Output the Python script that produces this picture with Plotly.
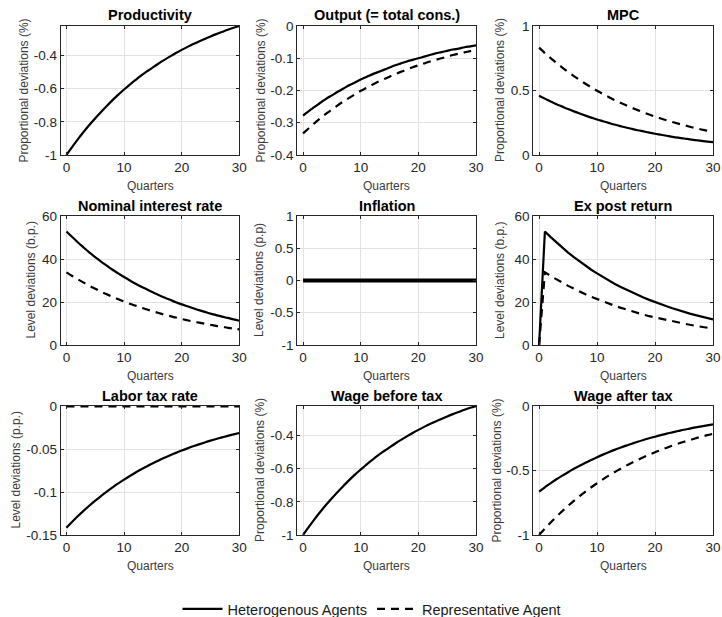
import plotly.graph_objects as go

# ---------------- data ----------------
quarters = list(range(31))

productivity_ha = [-1.000, -0.951, -0.904, -0.860, -0.818, -0.778, -0.740, -0.704, -0.669, -0.636,
                   -0.605, -0.575, -0.547, -0.520, -0.495, -0.471, -0.448, -0.426, -0.405, -0.385,
                   -0.366, -0.348, -0.331, -0.315, -0.300, -0.285, -0.271, -0.258, -0.245, -0.233, -0.222]

output_ha = [-0.278, -0.264, -0.251, -0.238, -0.226, -0.215, -0.204, -0.194, -0.184, -0.175,
             -0.166, -0.158, -0.150, -0.143, -0.136, -0.129, -0.122, -0.116, -0.110, -0.105,
             -0.100, -0.095, -0.090, -0.085, -0.081, -0.077, -0.073, -0.070, -0.066, -0.063, -0.060]
output_ra = [-0.333, -0.317, -0.301, -0.286, -0.272, -0.259, -0.246, -0.234, -0.223, -0.212,
             -0.201, -0.192, -0.182, -0.173, -0.165, -0.157, -0.149, -0.142, -0.135, -0.128,
             -0.122, -0.116, -0.110, -0.105, -0.100, -0.095, -0.090, -0.086, -0.082, -0.078, -0.074]

mpc_ha = [0.460, 0.437, 0.415, 0.394, 0.375, 0.356, 0.338, 0.321, 0.305, 0.290,
          0.275, 0.262, 0.249, 0.236, 0.224, 0.213, 0.202, 0.192, 0.183, 0.174,
          0.165, 0.157, 0.149, 0.141, 0.134, 0.128, 0.121, 0.115, 0.109, 0.104, 0.099]
mpc_ra = [0.832, 0.790, 0.751, 0.713, 0.678, 0.644, 0.612, 0.581, 0.552, 0.524,
          0.498, 0.473, 0.450, 0.427, 0.406, 0.385, 0.366, 0.348, 0.330, 0.314,
          0.298, 0.283, 0.269, 0.256, 0.243, 0.231, 0.219, 0.208, 0.198, 0.188, 0.179]

nominal_ha = [52.8, 50.2, 47.7, 45.3, 43.0, 40.9, 38.8, 36.9, 35.0, 33.3,
              31.6, 30.0, 28.5, 27.1, 25.8, 24.5, 23.2, 22.1, 21.0, 19.9,
              18.9, 18.0, 17.1, 16.2, 15.4, 14.6, 13.9, 13.2, 12.6, 11.9, 11.3]
nominal_ra = [33.8, 32.1, 30.5, 29.0, 27.5, 26.2, 24.8, 23.6, 22.4, 21.3,
              20.2, 19.2, 18.3, 17.4, 16.5, 15.7, 14.9, 14.1, 13.4, 12.8,
              12.1, 11.5, 10.9, 10.4, 9.9, 9.4, 8.9, 8.5, 8.0, 7.6, 7.3]

inflation_ha = [0.0] * 31
inflation_ra = [0.0] * 31

expost_ha = [0.0, 52.8, 50.2, 47.7, 45.3, 43.0, 40.9, 38.8, 36.9, 35.0,
             33.3, 31.6, 30.0, 28.5, 27.1, 25.8, 24.5, 23.2, 22.1, 21.0,
             19.9, 18.9, 18.0, 17.1, 16.2, 15.4, 14.6, 13.9, 13.2, 12.6, 11.9]
expost_ra = [0.0, 33.8, 32.1, 30.5, 29.0, 27.5, 26.2, 24.8, 23.6, 22.4,
             21.3, 20.2, 19.2, 18.3, 17.4, 16.5, 15.7, 14.9, 14.1, 13.4,
             12.8, 12.1, 11.5, 10.9, 10.4, 9.9, 9.4, 8.9, 8.5, 8.0, 7.6]

labortax_ha = [-0.1415, -0.1346, -0.1280, -0.1217, -0.1157, -0.1101, -0.1047, -0.0995, -0.0947, -0.0900,
               -0.0856, -0.0814, -0.0774, -0.0736, -0.0700, -0.0666, -0.0633, -0.0602, -0.0573, -0.0545,
               -0.0518, -0.0493, -0.0469, -0.0446, -0.0424, -0.0403, -0.0383, -0.0365, -0.0347, -0.0330, -0.0314]
labortax_ra = [0.0] * 31

wage_before_ha = [-1.000, -0.951, -0.904, -0.860, -0.818, -0.778, -0.740, -0.704, -0.669, -0.636,
                  -0.605, -0.575, -0.547, -0.520, -0.495, -0.471, -0.448, -0.426, -0.405, -0.385,
                  -0.366, -0.348, -0.331, -0.315, -0.300, -0.285, -0.271, -0.258, -0.245, -0.233, -0.222]

wage_after_ha = [-0.663, -0.630, -0.598, -0.568, -0.540, -0.513, -0.487, -0.463, -0.440, -0.418,
                 -0.397, -0.377, -0.358, -0.340, -0.323, -0.307, -0.292, -0.277, -0.263, -0.250,
                 -0.238, -0.226, -0.214, -0.204, -0.194, -0.184, -0.175, -0.166, -0.158, -0.150, -0.142]
wage_after_ra = [-1.000, -0.950, -0.903, -0.857, -0.815, -0.774, -0.735, -0.698, -0.663, -0.630,
                 -0.599, -0.569, -0.540, -0.513, -0.488, -0.463, -0.440, -0.418, -0.397, -0.377,
                 -0.358, -0.341, -0.324, -0.307, -0.292, -0.277, -0.264, -0.250, -0.238, -0.226, -0.215]

titles = ["Productivity", "Output (= total cons.)", "MPC",
          "Nominal interest rate", "Inflation", "Ex post return",
          "Labor tax rate", "Wage before tax", "Wage after tax"]
ylabels = ["Proportional deviations (%)", "Proportional deviations (%)", "Proportional deviations (%)",
           "Level deviations (b.p.)", "Level deviations (p.p)", "Level deviations (b.p.)",
           "Level deviations (p.p.)", "Proportional deviations (%)", "Proportional deviations (%)"]
ha_series = [productivity_ha, output_ha, mpc_ha, nominal_ha, inflation_ha, expost_ha,
             labortax_ha, wage_before_ha, wage_after_ha]
ra_series = [None, output_ra, mpc_ra, nominal_ra, inflation_ra, expost_ra,
             labortax_ra, None, wage_after_ra]
y_ranges = [[-1, -0.222], [-0.4, 0], [0, 1], [0, 60], [-1, 1], [0, 60],
            [-0.15, 0], [-1, -0.222], [-1, 0]]
y_tickvals = [[-1, -0.8, -0.6, -0.4], [-0.4, -0.3, -0.2, -0.1, 0], [0, 0.5, 1],
              [0, 20, 40, 60], [-1, -0.5, 0, 0.5, 1], [0, 20, 40, 60],
              [-0.15, -0.1, -0.05, 0], [-1, -0.8, -0.6, -0.4], [-1, -0.5, 0]]
y_ticktext = [["-1", "-0.8", "-0.6", "-0.4"], ["-0.4", "-0.3", "-0.2", "-0.1", "0"], ["0", "0.5", "1"],
              ["0", "20", "40", "60"], ["-1", "-0.5", "0", "0.5", "1"], ["0", "20", "40", "60"],
              ["-0.15", "-0.1", "-0.05", "0"], ["-1", "-0.8", "-0.6", "-0.4"], ["-1", "-0.5", "0"]]
x_tickvals = [0, 10, 20, 30]
x_ticktext = ["0", "10", "20", "30"]
x_label = "Quarters"
legend_names = ["Heterogenous Agents", "Representative Agent"]

# ---------------- layout geometry (pixels) ----------------
W, H = 722, 617
col_px = [(60.7, 239.3), (297.3, 476.0), (533.3, 713.0)]
row_px = [(26, 155), (216, 345), (406, 535)]
ylab_px = [23, 260, 499.5, 31, 259.5, 500.5, 15, 259.5, 496]

FONT = "Liberation Sans, Arial, sans-serif"
AXC = "#262626"
GRID = "#e2e2e2"

fig = go.Figure()
annotations = []
legend_shown = {"ha": False, "ra": False}

for i in range(9):
    r, c = divmod(i, 3)
    n = i + 1
    xa = "x" if n == 1 else f"x{n}"
    ya = "y" if n == 1 else f"y{n}"
    x0, x1 = col_px[c]
    top, bot = row_px[r]
    xdom = [x0 / W, x1 / W]
    ydom = [1 - bot / H, 1 - top / H]
    shape = "linear" if i == 5 else "spline"

    ha_w = 4 if i == 4 else 2.2
    fig.add_trace(go.Scatter(
        x=quarters, y=ha_series[i], mode="lines",
        line=dict(color="black", width=ha_w, shape=shape),
        name=legend_names[0], legendgroup="ha",
        showlegend=not legend_shown["ha"],
        xaxis=xa, yaxis=ya, hoverinfo="skip"))
    legend_shown["ha"] = True
    if ra_series[i] is not None:
        ra_w = 3 if i == 6 else 2.2
        fig.add_trace(go.Scatter(
            x=quarters, y=ra_series[i], mode="lines",
            line=dict(color="black", width=ra_w, dash="8px,6px", shape=shape),
            name=legend_names[1], legendgroup="ra",
            showlegend=not legend_shown["ra"],
            xaxis=xa, yaxis=ya, hoverinfo="skip"))
        legend_shown["ra"] = True

    common = dict(showgrid=True, gridcolor=GRID, gridwidth=1, zeroline=False,
                  showline=True, linecolor=AXC, linewidth=1, mirror="ticks",
                  ticks="inside", ticklen=3, tickcolor=AXC, tickwidth=1,
                  tickfont=dict(family=FONT, size=13.5, color=AXC), tickmode="array",
                  automargin=False)
    fig.update_layout(**{
        ("xaxis" if n == 1 else f"xaxis{n}"): dict(
            domain=xdom, anchor=ya, range=[-1, 30],
            tickvals=x_tickvals, ticktext=x_ticktext, **common),
        ("yaxis" if n == 1 else f"yaxis{n}"): dict(
            domain=ydom, anchor=xa, range=y_ranges[i],
            tickvals=y_tickvals[i], ticktext=y_ticktext[i], **common),
    })

    cx = (x0 + x1) / 2 / W
    annotations.append(dict(text=f"<b>{titles[i]}</b>", x=cx, y=1 - (top - 10.5) / H,
                            xref="paper", yref="paper", xanchor="center", yanchor="middle",
                            showarrow=False, font=dict(family=FONT, size=14.5, color="black")))
    annotations.append(dict(text=x_label, x=cx, y=1 - (bot + 30.7) / H,
                            xref="paper", yref="paper", xanchor="center", yanchor="middle",
                            showarrow=False, font=dict(family=FONT, size=12, color="#3a3a3a")))
    annotations.append(dict(text=ylabels[i], x=ylab_px[i] / W, y=1 - (top + bot) / 2 / H,
                            xref="paper", yref="paper", xanchor="center", yanchor="middle",
                            textangle=-90, showarrow=False,
                            font=dict(family=FONT, size=12, color="#3a3a3a")))

fig.update_layout(
    width=W, height=H,
    margin=dict(l=0, r=0, t=0, b=0, pad=0, autoexpand=False),
    paper_bgcolor="white", plot_bgcolor="white",
    annotations=annotations,
    showlegend=True,
    hovermode=False,
    legend=dict(orientation="h", x=372 / W, xanchor="center", y=1 - 609 / H, yanchor="middle",
                font=dict(family=FONT, size=14.5, color="#1a1a1a"),
                bgcolor="rgba(0,0,0,0)", itemwidth=40, tracegroupgap=0),
)

fig.write_html(
    "out.html",
    config={"displayModeBar": False},
    post_script="document.body.style.margin='0';document.body.style.overflow='hidden';",
)
